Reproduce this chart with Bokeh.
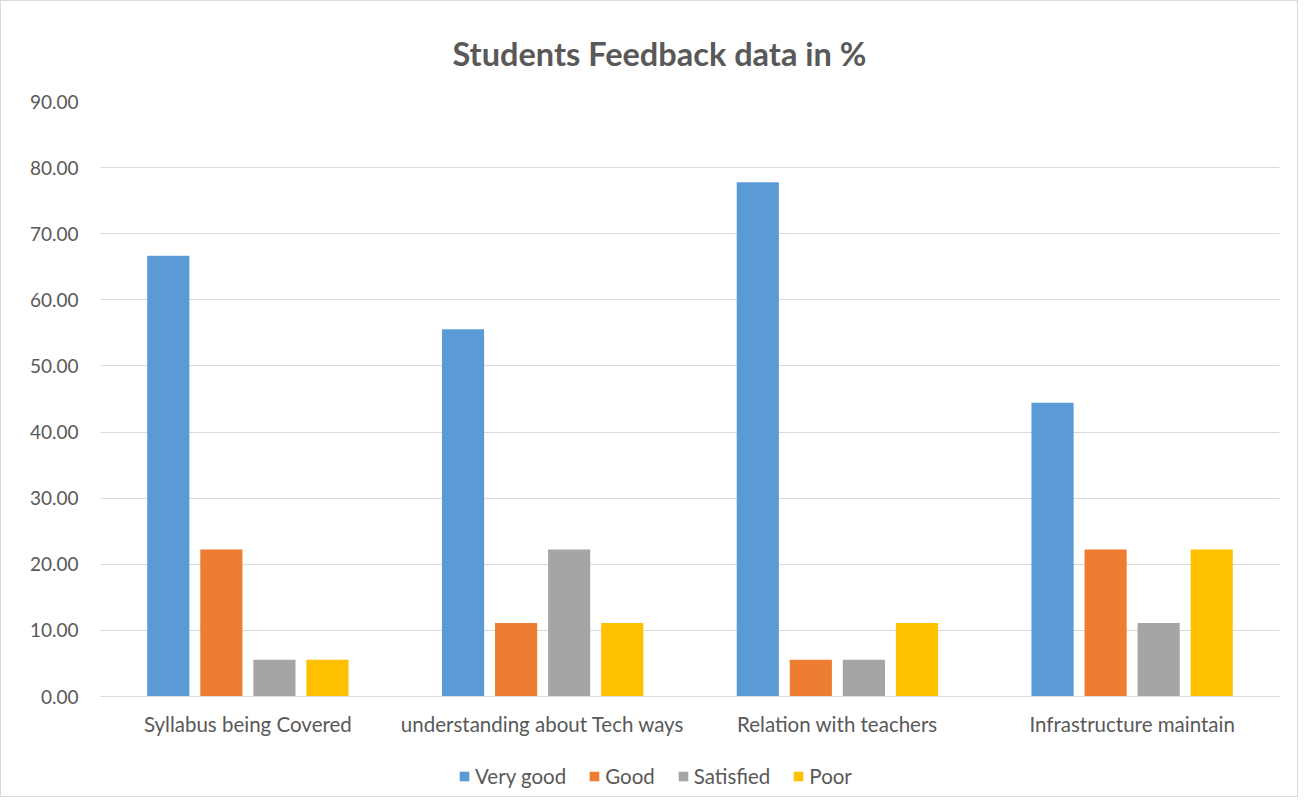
from bokeh.plotting import figure
from bokeh.layouts import column
from bokeh.models import ColumnDataSource, Legend, LegendItem, FactorRange, PrintfTickFormatter, Range1d
from bokeh.transform import dodge
from bokeh.embed import file_html
from bokeh.resources import INLINE

categories = ["Syllabus being Covered", "understanding about Tech ways",
              "Relation with teachers", "Infrastructure maintain"]
very_good = [66.67, 55.56, 77.78, 44.44]
good = [22.22, 11.11, 5.56, 22.22]
satisfied = [5.56, 22.22, 5.56, 11.11]
poor = [5.56, 11.11, 11.11, 22.22]
series_names = ["Very good", "Good", "Satisfied", "Poor"]
y_ticks = [0, 10, 20, 30, 40, 50, 60, 70, 80, 90]

colors = ["#5B9BD5", "#ED7D31", "#A5A5A5", "#FFC000"]
FONT = "Lato"
TXT = "#595959"

source = ColumnDataSource(dict(cat=categories, vg=very_good, g=good, s=satisfied, p=poor))

p = figure(x_range=FactorRange(*categories), y_range=(0, 90),
           frame_width=1179, frame_height=595, output_backend="svg", toolbar_location=None,
           min_border_left=99, min_border_right=18, min_border_top=100, min_border_bottom=50)

fields = ["vg", "g", "s", "p"]
offsets = [-0.27, -0.09, 0.09, 0.27]
for f, off, c in zip(fields, offsets, colors):
    p.vbar(x=dodge("cat", off, range=p.x_range), top=f, width=0.143,
           source=source, fill_color=c, line_color=None)

p.title.text = "Students Feedback data in %"
p.title.align = "left"
p.title.offset = 352
p.title.text_font = FONT
p.title.text_font_size = "32.5px"
p.title.text_font_style = "bold"
p.title.text_color = TXT
p.title.standoff = 58

p.outline_line_color = None
p.xgrid.grid_line_color = None
p.ygrid.grid_line_color = "#d9d9d9"
p.ygrid.grid_line_width = 1
p.yaxis.ticker = y_ticks
p.yaxis.formatter = PrintfTickFormatter(format="%.2f")
p.yaxis.axis_line_color = None
p.yaxis.major_tick_line_color = None
p.yaxis.minor_tick_line_color = None
p.yaxis.major_label_standoff = 16
p.xaxis.axis_line_color = "#d9d9d9"
p.xaxis.axis_line_width = 1
p.xaxis.major_tick_line_color = None
p.xaxis.minor_tick_line_color = None
p.xaxis.major_label_standoff = 9
for ax in (p.xaxis, p.yaxis):
    ax.major_label_text_font = FONT
    ax.major_label_text_color = TXT
p.yaxis.major_label_text_font_size = "19px"
p.xaxis.major_label_text_font_size = "20.5px"

# legend strip below the chart (swatch renderers have zero height, legend only)
p2 = figure(width=1296, height=50, x_range=Range1d(0, 1), y_range=Range1d(0, 1),
            output_backend="svg", toolbar_location=None,
            min_border_left=0, min_border_right=0, min_border_top=0, min_border_bottom=0)
p2.axis.visible = False
p2.grid.visible = False
p2.outline_line_color = None
swatches = []
for c in colors:
    swatches.append(p2.vbar(x=[-5], top=[0], bottom=0, width=0.001,
                            fill_color=c, line_color=None))

legend = Legend(items=[LegendItem(label=n, renderers=[r]) for n, r in zip(series_names, swatches)],
                orientation="horizontal", ncols=4, location=(358, 8))
legend.border_line_color = None
legend.background_fill_alpha = 0
legend.glyph_width = 12
legend.glyph_height = 12
legend.label_standoff = 5
legend.spacing = 22
legend.padding = 0
legend.margin = 0
legend.label_text_font = FONT
legend.label_text_font_size = "20.5px"
legend.label_text_color = TXT
p2.add_layout(legend, "center")

layout = column(p, p2, spacing=0)
layout.styles = {"border": "1px solid #d9d9d9"}

open("out.html", "w").write(file_html(layout, INLINE))
